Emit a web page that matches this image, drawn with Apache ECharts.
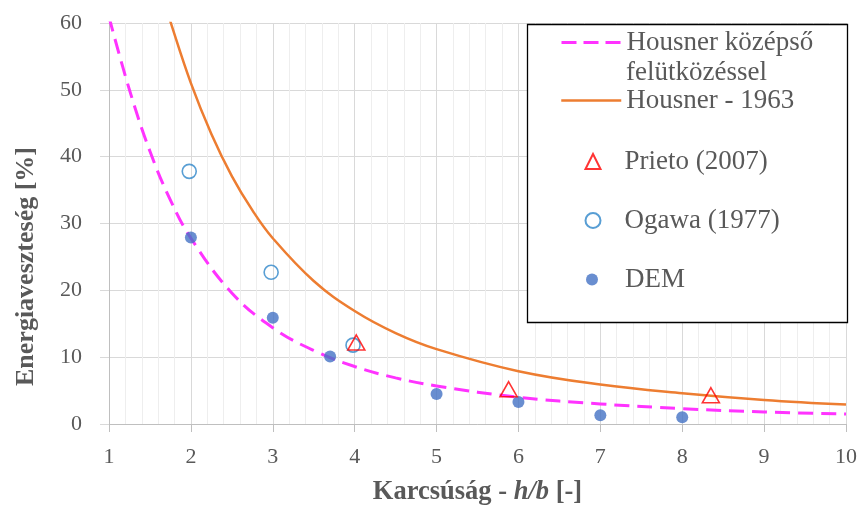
<!DOCTYPE html>
<html>
<head>
<meta charset="utf-8">
<script src="https://cdn.jsdelivr.net/npm/echarts@6/dist/echarts.min.js"></script>
<style>html,body{margin:0;padding:0;background:#fff;}#c{width:862px;height:511px;}</style>
</head>
<body>
<div id="c"></div>
<script>
// Housner with middle impact (dashed)
var midX = [1, 1.25, 1.5, 1.75, 2, 2.5, 3, 3.5, 4, 4.5, 5, 6, 7, 8, 9, 10];
var midY = [60.9, 50.0, 40.8, 33.5, 27.8, 19.6, 14.4, 11.0, 8.6, 6.9, 5.7, 4.0, 3.0, 2.3, 1.8, 1.5];
// Housner 1963 (solid)
var h63X = [1.7, 1.75, 2, 2.25, 2.5, 2.75, 3, 3.5, 4, 4.5, 5, 6, 7, 8, 9, 10];
var h63Y = [62.3, 60.2, 51.0, 43.4, 37.1, 32.0, 27.8, 21.4, 16.9, 13.6, 11.2, 7.9, 5.9, 4.6, 3.6, 2.9];
// Prieto (2007)
var prietoX = [4.02, 5.88, 8.35];
var prietoY = [12.2, 5.2, 4.3];
// Ogawa (1977)
var ogawaX = [1.98, 2.98, 3.98];
var ogawaY = [37.8, 22.7, 11.8];
// DEM
var demX = [2, 3, 3.7, 5, 6, 7, 8];
var demY = [27.9, 15.9, 10.1, 4.5, 3.3, 1.3, 1.0];
// axis ticks
var xTicks = [1, 2, 3, 4, 5, 6, 7, 8, 9, 10];
var yTicks = [0, 10, 20, 30, 40, 50, 60];

function pairs(xs, ys) { return xs.map(function (x, i) { return [x, ys[i]]; }); }

var FONT = '"Liberation Serif", "Times New Roman", serif';
var GRAY = '#595959';
var N1 = 'Housner középső felütközéssel';
var N2 = 'Housner - 1963';
var N3 = 'Prieto (2007)';
var N4 = 'Ogawa (1977)';
var N5 = 'DEM';

function lineLeg(name, top, lineStyle, fmt) {
  return {
    data: [name], top: top, left: 560, orient: 'vertical', padding: 0,
    itemWidth: 60, itemHeight: 14, z: 10, selectedMode: false,
    itemStyle: { opacity: 0 },
    lineStyle: lineStyle,
    textStyle: { fontFamily: FONT, fontSize: 27, color: GRAY },
    formatter: fmt || undefined
  };
}
function symLeg(name, top, size) {
  return {
    data: [name], top: top, left: 592 - size / 2, orient: 'vertical', padding: 0,
    itemWidth: size, itemHeight: size, z: 10, selectedMode: false,
    textStyle: { fontFamily: FONT, fontSize: 27, color: GRAY, padding: [0, 0, 0, 34 - size] }
  };
}

var chart = echarts.init(document.getElementById('c'), null, { renderer: 'canvas' });
chart.setOption({
  animation: false,
  backgroundColor: '#fff',
  grid: { left: 109, right: 16, top: 23, bottom: 84, containLabel: false },
  xAxis: {
    type: 'value', min: xTicks[0], max: xTicks[xTicks.length - 1], interval: 1,
    name: '{b|Karcsúság - }{i|h/b}{b| [-]}', nameLocation: 'middle', nameGap: 55,
    nameTextStyle: {
      rich: {
        b: { fontFamily: FONT, fontSize: 26.5, fontWeight: 'bold', color: GRAY },
        i: { fontFamily: FONT, fontSize: 26.5, fontWeight: 'bold', fontStyle: 'italic', color: GRAY }
      }
    },
    axisLine: { show: true, lineStyle: { color: '#BFBFBF', width: 1 } },
    axisTick: { show: true, inside: false, length: 8, lineStyle: { color: '#BFBFBF' } },
    axisLabel: { fontFamily: FONT, fontSize: 22, color: GRAY, margin: 22 },
    splitLine: { show: true, lineStyle: { color: '#D9D9D9', width: 1 } },
    minorTick: { show: false, splitNumber: 5 },
    minorSplitLine: { show: true, lineStyle: { color: '#EEEEEE', width: 1 } }
  },
  yAxis: {
    type: 'value', min: yTicks[0], max: yTicks[yTicks.length - 1], interval: 10,
    name: 'Energiaveszteség [%]', nameLocation: 'middle', nameGap: 70,
    nameTextStyle: { fontFamily: FONT, fontSize: 26, fontWeight: 'bold', color: GRAY, padding: [0, 86, 0, 0] },
    axisLine: { show: true, lineStyle: { color: '#BFBFBF', width: 1 } },
    axisTick: { show: true, inside: false, length: 9, lineStyle: { color: '#D9D9D9' } },
    axisLabel: { fontFamily: FONT, fontSize: 22, color: GRAY, margin: 27 },
    splitLine: { show: true, lineStyle: { color: '#D9D9D9', width: 1 } }
  },
  legend: [
    lineLeg(N1, 29, { color: '#FF33FF', width: 3, type: [15, 7] }, function () { return 'Housner középső'; }),
    lineLeg(N2, 87, { color: '#ED7D31', width: 2.5 }),
    symLeg(N3, 148, 15),
    symLeg(N4, 207, 15),
    symLeg(N5, 266, 12)
  ],
  graphic: [
    { type: 'rect', z: 5, shape: { x: 527.5, y: 24.5, width: 320, height: 298 },
      style: { fill: '#fff', stroke: '#000', lineWidth: 1.3 } },
    { type: 'text', z: 11, left: 626, top: 59,
      style: { text: 'felütközéssel', font: '27px ' + FONT, fill: GRAY } }
  ],
  series: [
    { name: N1, type: 'line', data: pairs(midX, midY), smooth: 0.4, symbol: 'none', clip: true,
      lineStyle: { color: '#FF33FF', width: 3, type: [15, 8] }, itemStyle: { color: '#FF33FF' }, z: 3 },
    { name: N2, type: 'line', data: pairs(h63X, h63Y), smooth: 0.4, symbol: 'none', clip: true,
      lineStyle: { color: '#ED7D31', width: 2.5 }, itemStyle: { color: '#ED7D31' }, z: 3 },
    { name: N5, type: 'scatter', data: pairs(demX, demY), symbol: 'circle', symbolSize: 12,
      itemStyle: { color: '#4472C4' }, z: 4 },
    { name: N4, type: 'scatter', data: pairs(ogawaX, ogawaY), symbol: 'circle', symbolSize: 14,
      itemStyle: { color: 'rgba(255,255,255,0)', borderColor: '#2E86C9', borderWidth: 1.6 }, z: 4 },
    { name: N3, type: 'scatter', data: pairs(prietoX, prietoY), symbol: 'triangle', symbolSize: [17, 15],
      itemStyle: { color: 'rgba(255,255,255,0)', borderColor: '#FF0000', borderWidth: 1.6 }, z: 4 }
  ]
});
</script>
</body>
</html>
